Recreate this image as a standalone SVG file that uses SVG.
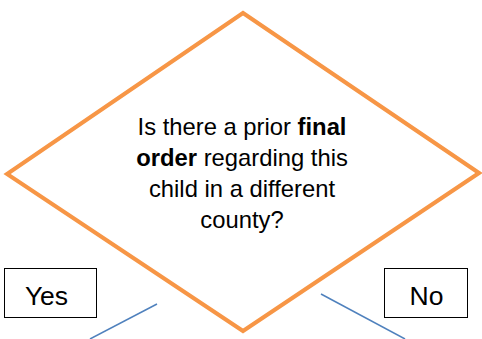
<svg xmlns="http://www.w3.org/2000/svg" width="482" height="339" viewBox="0 0 482 339">
<style>
.t{font-family:"Liberation Sans",Arial,sans-serif;fill:#000;text-anchor:middle}
.q{font-size:23.8px}
.lbl{font-size:26.5px}
.b{font-weight:bold}
.box{fill:#fff;stroke:#000;stroke-width:1}
.conn{stroke:#4F81BD;stroke-width:1.5;fill:none}
</style>
<rect width="482" height="339" fill="#fff"/>
<g id="decision">
<polygon points="243,13 479,173 243,331 7,174" fill="#fff" stroke="#F79646" stroke-width="4" stroke-linejoin="miter"/>
<text class="t q" x="242" y="135">Is there a prior <tspan class="b">final</tspan></text>
<text class="t q" x="242" y="166"><tspan class="b">order</tspan> regarding this</text>
<text class="t q" x="242" y="197">child in a different</text>
<text class="t q" x="242" y="228">county?</text>
</g>
<g id="yes">
<rect class="box" x="4.5" y="268.5" width="92" height="49"/>
<text class="t lbl" x="46.5" y="305">Yes</text>
</g>
<g id="no">
<rect class="box" x="384.5" y="268.5" width="83" height="49"/>
<text class="t lbl" x="426.5" y="305">No</text>
</g>
<g id="connectors">
<line class="conn" x1="157" y1="304" x2="90" y2="339"/>
<line class="conn" x1="321" y1="294" x2="405" y2="339"/>
</g>
</svg>
